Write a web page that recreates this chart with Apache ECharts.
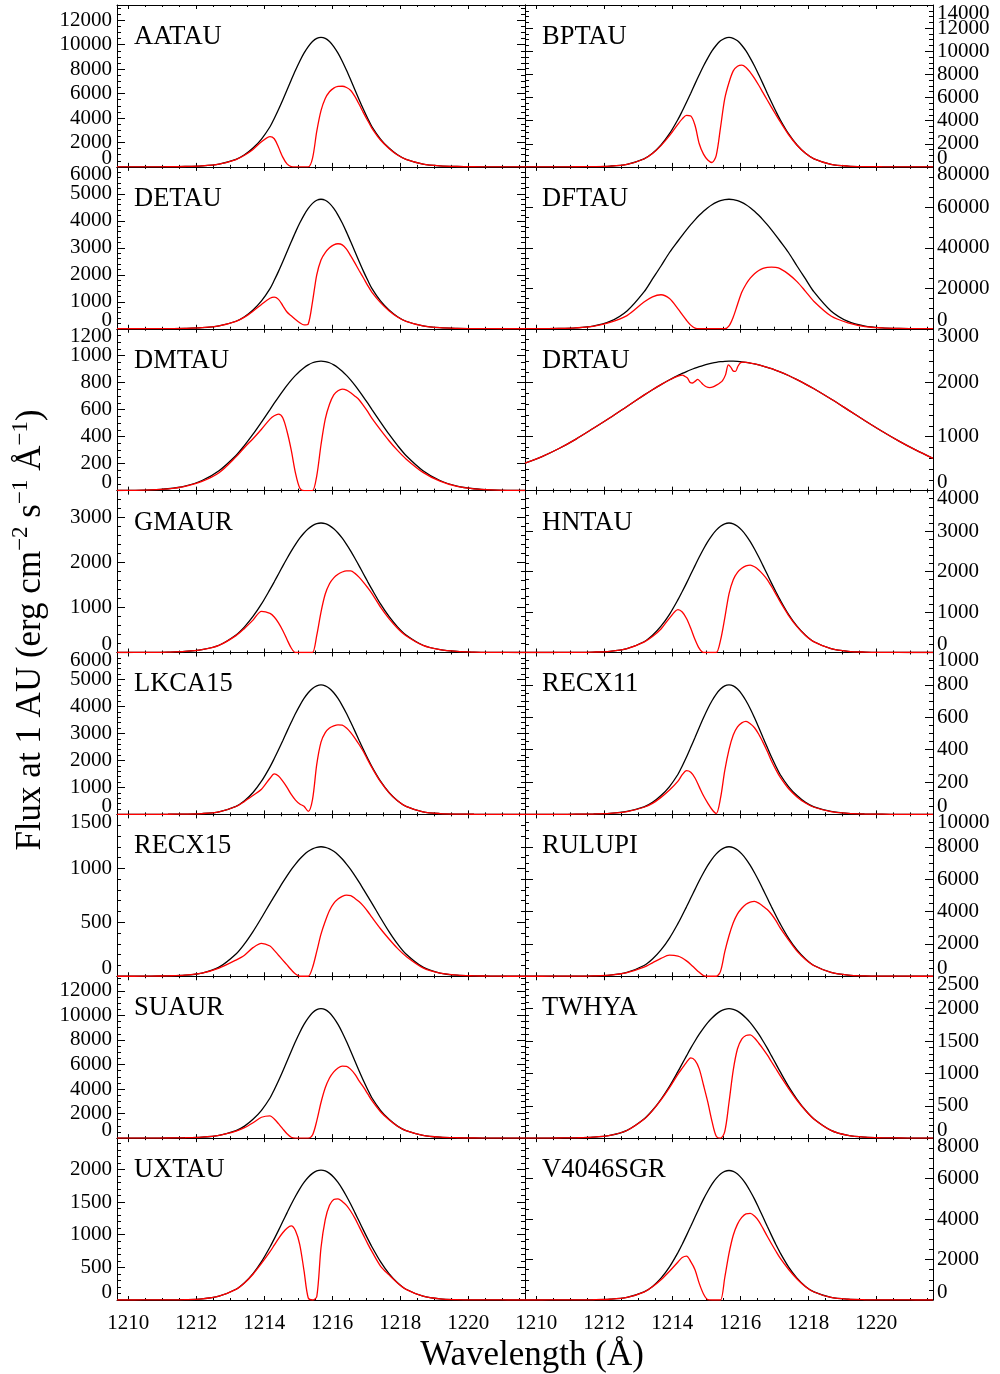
<!DOCTYPE html>
<html><head><meta charset="utf-8">
<script src="https://cdn.jsdelivr.net/npm/echarts@6/dist/echarts.min.js"></script>
<style>html,body{margin:0;padding:0;background:#fff}#c{width:1000px;height:1374px}</style>
</head><body><div id="c"></div><script>
// Wavelength grid (Angstrom)
const wavelength = [1209.67,1210.17,1210.67,1211.17,1211.67,1212.17,1212.67,1213.17,1213.42,1213.67,1213.92,1214.17,1214.295,1214.42,1214.545,1214.67,1214.795,1214.92,1215.045,1215.17,1215.295,1215.42,1215.545,1215.67,1215.795,1215.92,1216.045,1216.17,1216.295,1216.42,1216.545,1216.67,1216.795,1216.92,1217.045,1217.17,1217.42,1217.67,1217.92,1218.17,1218.67,1219.17,1219.67,1220.17,1220.67,1221.17,1221.67];

const stars = ['AATAU','BPTAU','DETAU','DFTAU','DMTAU','DRTAU','GMAUR','HNTAU','LKCA15','RECX11','RECX15','RULUPI','SUAUR','TWHYA','UXTAU','V4046SGR'];
const yMax  = [13250,14000,6000,80000,1200,3000,3600,4000,6000,1000,1500,10000,13190,2500,2480,8000];
const yStep = [2000,2000,1000,20000,200,1000,1000,1000,1000,200,500,2000,2000,500,500,2000];
const xTicks = [1210,1212,1214,1216,1218,1220];

// intrinsic (black) and observed (red) profiles
const AATAU_model = [0,1,4,11,32,85,233,615,986,1537,2279,3286,3964,4696,5480,6296,7113,7908,8650,9307,9847,10261,10515,10600,10515,10261,9847,9307,8650,7908,7113,6296,5480,4696,3964,3286,2279,1537,986,615,233,85,32,11,4,1,0];
const AATAU_obs = [0,1,4,11,32,85,230,600,950,1430,2050,2480,2300,1600,800,250,30,0,0,0,0,700,2900,4600,5600,6150,6450,6580,6600,6500,6250,5750,5100,4420,3780,3160,2200,1510,975,612,233,85,32,11,4,1,0];
const BPTAU_model = [0,1,3,9,22,67,224,694,1176,1893,2867,4110,4827,5589,6373,7179,7963,8725,9408,10024,10517,10898,11122,11200,11122,10898,10517,10024,9408,8725,7963,7179,6373,5589,4827,4110,2867,1893,1176,694,224,67,22,9,3,1,0];
const BPTAU_obs = [0,1,3,9,22,66,220,680,1150,1840,2700,3700,4150,4450,4400,3600,2000,1100,600,380,1000,3400,5900,7300,8300,8700,8800,8600,8180,7660,7060,6420,5780,5150,4530,3930,2800,1870,1170,690,224,67,22,9,3,1,0];
const DETAU_model = [0,0,2,5,14,38,106,278,446,696,1032,1488,1795,2126,2482,2851,3221,3581,3917,4214,4459,4646,4762,4800,4762,4646,4459,4214,3917,3581,3221,2851,2482,2126,1795,1488,1032,696,446,278,106,38,14,5,2,0,0];
const DETAU_obs = [0,0,2,5,14,38,104,272,430,650,900,1130,1175,1090,860,620,480,340,220,140,180,1000,2000,2550,2820,3000,3110,3150,3110,2950,2700,2430,2150,1880,1600,1350,970,670,438,275,106,38,14,5,2,0,0];
const DFTAU_model = [20,50,150,450,1300,3600,8800,18200,24600,31000,37680,43370,46150,48840,51420,53830,56060,58070,59820,61290,62460,63310,63830,64000,63830,63310,62460,61290,59820,58070,56060,53830,51420,48840,46150,43370,37680,31000,24600,18200,8800,3600,1300,450,150,50,20];
const DFTAU_obs = [20,50,150,440,1150,3100,6500,13200,15800,16800,14900,9800,7000,4200,1800,300,0,0,0,0,0,0,0,1400,5800,12000,18000,22000,25000,27200,28800,29800,30300,30500,30300,29700,27000,23300,18500,13500,6300,2900,1100,440,145,50,20];
const DMTAU_model = [1,2,5,14,34,75,148,261,335,418,508,601,648,694,738,780,819,854,885,911,932,948,957,960,957,948,932,911,885,854,819,780,738,694,648,601,508,418,335,261,148,75,34,14,5,2,1];
const DMTAU_obs = [1,2,5,13,32,68,132,250,320,385,455,530,555,567,540,440,300,130,20,0,0,0,110,340,530,640,710,740,752,745,725,700,672,630,585,535,450,370,298,235,135,70,31,13,5,2,1];
const DRTAU_model = [510,630,780,955,1150,1350,1560,1770,1870,1965,2055,2135,2172,2207,2240,2270,2298,2323,2345,2363,2378,2389,2397,2400,2399,2394,2387,2377,2364,2348,2330,2309,2286,2260,2231,2201,2134,2057,1975,1887,1697,1497,1296,1101,918,750,597];
const DRTAU_obs_wave = [1209.67,1210.17,1210.67,1211.17,1211.67,1212.17,1212.67,1213.17,1213.42,1213.67,1213.92,1214.17,1214.3,1214.38,1214.45,1214.52,1214.6,1214.68,1214.75,1214.82,1214.92,1215.0,1215.1,1215.2,1215.3,1215.4,1215.48,1215.57,1215.65,1215.72,1215.8,1215.86,1215.93,1216.0,1216.08,1216.17,1216.42,1216.67,1216.92,1217.17,1217.42,1217.67,1217.92,1218.17,1218.67,1219.17,1219.67,1220.17,1220.67,1221.17,1221.67];
const DRTAU_obs = [510,630,780,955,1150,1350,1560,1770,1870,1965,2050,2120,2140,2115,2085,2010,1995,2030,2060,2025,1960,1925,1910,1922,1955,1995,2040,2150,2330,2290,2215,2210,2300,2365,2380,2376,2348,2309,2260,2201,2134,2057,1975,1887,1697,1497,1296,1101,918,750,597];
const GMAUR_model = [0,1,3,9,23,63,161,389,570,801,1080,1403,1572,1747,1921,2091,2255,2405,2542,2658,2753,2822,2866,2880,2866,2822,2753,2658,2542,2405,2255,2091,1921,1747,1572,1403,1080,801,570,389,161,63,23,9,3,1,0];
const GMAUR_obs = [0,1,3,9,23,62,158,375,535,720,915,870,790,660,490,290,100,0,0,0,0,0,380,900,1300,1530,1660,1740,1790,1815,1815,1760,1670,1560,1440,1310,1010,755,540,372,158,62,23,9,3,1,0];
const HNTAU_model = [0,0,1,3,10,29,96,265,426,650,944,1306,1507,1715,1933,2147,2358,2557,2739,2896,3024,3120,3181,3200,3181,3120,3024,2896,2739,2557,2358,2147,1933,1715,1507,1306,944,650,426,265,96,29,10,3,1,0,0];
const HNTAU_obs = [0,0,1,3,10,29,95,258,395,580,850,1060,1000,840,600,320,100,0,0,0,0,300,850,1450,1800,1980,2080,2140,2160,2120,2040,1930,1800,1630,1450,1260,920,640,422,263,96,29,10,3,1,0,0];
const LKCA15_model = [0,0,1,4,10,29,96,298,504,811,1229,1762,2069,2395,2731,3077,3413,3739,4032,4296,4507,4670,4766,4800,4766,4670,4507,4296,4032,3739,3413,3077,2731,2395,2069,1762,1229,811,504,298,96,29,10,4,1,0,0];
const LKCA15_obs = [0,0,1,4,10,29,95,292,480,700,930,1340,1500,1420,1230,1000,740,530,385,300,110,550,1850,2680,3030,3200,3280,3320,3310,3200,3030,2820,2580,2320,2020,1730,1210,805,502,297,96,29,10,4,1,0,0];
const RECX11_model = [0,0,0,1,2,6,18,46,74,116,172,248,299,354,414,475,537,597,653,702,743,774,794,800,794,774,743,702,653,597,537,475,414,354,299,248,172,116,74,46,18,6,2,1,0,0,0];
const RECX11_obs = [0,0,0,1,2,6,17,44,68,105,150,205,245,270,260,225,170,115,70,30,5,100,270,400,490,540,565,574,560,535,495,445,390,330,278,232,160,108,70,44,17,6,2,1,0,0,0];
const RECX15_model = [0,0,1,4,10,30,84,206,300,414,542,676,740,805,869,930,988,1039,1086,1126,1158,1181,1195,1200,1195,1181,1158,1126,1086,1039,988,930,869,805,740,676,542,414,300,206,84,30,10,4,1,0,0];
const RECX15_obs = [0,0,1,4,10,28,75,150,195,265,305,280,240,195,150,105,60,20,0,0,0,80,230,390,510,610,675,715,740,752,748,720,690,650,600,545,440,345,258,185,78,29,10,4,1,0,0];
const RULUPI_model = [0,1,3,8,24,72,240,662,1064,1624,2360,3264,3768,4288,4832,5368,5896,6392,6848,7240,7560,7800,7952,8000,7952,7800,7560,7240,6848,6392,5896,5368,4832,4288,3768,3264,2360,1624,1064,662,240,72,24,8,3,1,0];
const RULUPI_obs = [0,1,3,8,24,70,225,560,830,1100,1300,1250,1130,950,730,480,240,40,0,0,0,300,1500,2500,3300,3850,4200,4450,4580,4620,4520,4330,4120,3830,3450,3000,2250,1550,1030,650,238,72,24,8,3,1,0];
const SUAUR_model = [0,1,4,11,32,84,232,612,981,1530,2268,3271,3946,4674,5454,6267,7079,7870,8609,9263,9801,10212,10466,10550,10466,10212,9801,9263,8609,7870,7079,6267,5454,4674,3946,3271,2268,1530,981,612,232,84,32,11,4,1,0];
const SUAUR_obs = [0,1,4,11,32,82,222,570,850,1250,1700,1820,1560,1180,760,360,70,0,0,0,0,250,1400,2900,4100,4900,5400,5720,5860,5850,5600,5200,4650,4150,3600,3050,2150,1490,970,608,232,84,32,11,4,1,0];
const TWHYA_model = [0,0,2,5,14,42,120,295,430,600,800,1030,1150,1270,1390,1500,1605,1700,1785,1855,1915,1962,1990,2000,1990,1962,1915,1855,1785,1700,1605,1500,1390,1270,1150,1030,800,600,430,295,120,42,14,5,2,0,0];
const TWHYA_obs = [0,0,2,5,14,42,118,290,425,590,780,990,1080,1170,1240,1200,1070,820,560,260,30,0,100,550,1050,1380,1530,1585,1595,1545,1465,1380,1285,1180,1075,970,770,585,425,292,120,42,14,5,2,0,0];
const UXTAU_model = [0,0,1,2,6,18,60,165,265,404,587,812,937,1067,1202,1335,1467,1590,1703,1801,1881,1940,1978,1990,1978,1940,1881,1801,1703,1590,1467,1335,1202,1067,937,812,587,404,265,165,60,18,6,2,1,0,0];
const UXTAU_obs = [0,0,1,2,6,18,60,163,260,395,560,740,840,940,1030,1100,1135,1060,850,450,30,0,50,800,1230,1450,1540,1550,1510,1450,1360,1250,1120,990,860,740,520,385,260,163,60,18,6,2,1,0,0];
const V4046SGR_model = [0,1,2,5,13,38,128,397,672,1082,1638,2349,2758,3194,3642,4102,4550,4986,5376,5728,6010,6227,6355,6400,6355,6227,6010,5728,5376,4986,4550,4102,3642,3194,2758,2349,1638,1082,672,397,128,38,13,5,2,1,0];
const V4046SGR_obs = [0,1,2,5,13,38,126,390,650,1000,1420,1880,2100,2170,1900,1500,820,300,20,0,0,0,1100,2300,3200,3750,4080,4260,4280,4150,3900,3540,3150,2780,2420,2080,1520,1040,660,395,128,38,13,5,2,1,0];

const models = [AATAU_model,BPTAU_model,DETAU_model,DFTAU_model,DMTAU_model,DRTAU_model,GMAUR_model,HNTAU_model,LKCA15_model,RECX11_model,RECX15_model,RULUPI_model,SUAUR_model,TWHYA_model,UXTAU_model,V4046SGR_model];
const observed = [AATAU_obs,BPTAU_obs,DETAU_obs,DFTAU_obs,DMTAU_obs,DRTAU_obs,GMAUR_obs,HNTAU_obs,LKCA15_obs,RECX11_obs,RECX15_obs,RULUPI_obs,SUAUR_obs,TWHYA_obs,UXTAU_obs,V4046SGR_obs];
const observedWave = stars.map(s => s === 'DRTAU' ? DRTAU_obs_wave : wavelength);

const FONT = '"Liberation Serif","Times New Roman",Times,serif';
const chart = echarts.init(document.getElementById('c'), null, {renderer: 'canvas'});
const grids = [], xAxes = [], yAxes = [], series = [], graphics = [];
const rowH = 1295 / 8;
const X0 = 1209.67, X1 = 1221.67;
const black = '#000000';
const EPS = 1e-6;

function xAxisDef(p, pos, showLabel) {
  return {
    gridIndex: p, type: 'value', position: pos, min: X0, max: X1,
    minInterval: 2, maxInterval: 2, splitNumber: 6,
    axisLine: {onZero: false, lineStyle: {color: black, width: 1}},
    axisTick: {inside: true, length: 4, lineStyle: {color: black, width: 1}},
    minorTick: {show: true, splitNumber: 4, length: 2, lineStyle: {color: black, width: 1}},
    splitLine: {show: false}, minorSplitLine: {show: false},
    axisLabel: {
      show: showLabel, margin: 13, color: black, fontFamily: FONT, fontSize: 21,
      formatter: v => { const r = Math.round(v); return (Math.abs(v - r) < EPS && xTicks.indexOf(r) >= 0) ? String(r) : ''; }
    }
  };
}
// mode: 'main' (line, ticks, inner labels), 'mirror' (line+ticks only),
// 'min' (only the 0 label, raised), 'max' (only the top label, lowered)
function yAxisDef(p, pos, mode) {
  const step = yStep[p], max = yMax[p];
  const lead = step / Math.pow(10, Math.floor(Math.log10(step)));
  const minorSplit = Math.round(lead) === 2 ? 4 : 5;
  const isMult = v => Math.abs(v / step - Math.round(v / step)) < EPS;
  const drawLine = (mode === 'main' || mode === 'mirror');
  let formatter, vAlign = 'middle', showMin = false, showMax = false, lh;
  if (mode === 'main') {
    formatter = v => (isMult(v) && v !== 0 && Math.abs(v - max) > EPS) ? String(Math.round(v)) : '';
  } else if (mode === 'min') {
    formatter = v => (v === 0 ? '0' : ''); vAlign = 'bottom'; showMin = true; lh = 16;
  } else if (mode === 'max') {
    formatter = v => (Math.abs(v - max) < EPS && isMult(max)) ? String(Math.round(max)) : ''; vAlign = 'top'; showMax = true; lh = 16;
  } else {
    formatter = () => '';
  }
  const label = {
    show: mode !== 'mirror', showMinLabel: showMin, showMaxLabel: showMax, hideOverlap: false,
    margin: pos === 'left' ? 5 : 4, color: black, fontFamily: FONT, fontSize: 21,
    verticalAlign: vAlign, formatter: formatter
  };
  if (lh) label.lineHeight = lh;
  return {
    gridIndex: p, type: 'value', position: pos, min: 0, max: max, interval: step,
    axisLine: {show: drawLine, onZero: false, lineStyle: {color: black, width: 1}},
    axisTick: {show: drawLine, inside: true, length: 8, lineStyle: {color: black, width: 1}},
    minorTick: {show: drawLine, splitNumber: minorSplit, length: 4, lineStyle: {color: black, width: 1}},
    splitLine: {show: false}, minorSplitLine: {show: false},
    axisLabel: label
  };
}

for (let p = 0; p < 16; p++) {
  const col = p % 2, row = Math.floor(p / 2);
  const left = col === 0 ? 117 : 525;
  const top = 5 + row * rowH;
  const labelSide = col === 0 ? 'left' : 'right';
  const otherSide = col === 0 ? 'right' : 'left';
  grids.push({left: left, top: top, width: 408, height: rowH, containLabel: false, outerBoundsMode: 'none'});
  xAxes.push(xAxisDef(p, 'bottom', row === 7));
  xAxes.push(xAxisDef(p, 'top', false));
  yAxes.push(yAxisDef(p, labelSide, 'main'));
  yAxes.push(yAxisDef(p, otherSide, 'mirror'));
  yAxes.push(yAxisDef(p, labelSide, 'min'));
  yAxes.push(yAxisDef(p, labelSide, 'max'));
  series.push({
    type: 'line', xAxisIndex: 2 * p, yAxisIndex: 4 * p, showSymbol: false, smooth: 0.3,
    data: wavelength.map((w, i) => [w, models[p][i]]),
    lineStyle: {color: black, width: 1.3}, itemStyle: {color: black}, z: 3
  });
  const ow = observedWave[p];
  series.push({
    type: 'line', xAxisIndex: 2 * p, yAxisIndex: 4 * p, showSymbol: false, smooth: 0.3,
    data: ow.map((w, i) => [w, observed[p][i]]),
    lineStyle: {color: '#ff0000', width: 1.3}, itemStyle: {color: '#ff0000'}, z: 4
  });
  graphics.push({
    type: 'text', x: left + 17, y: top + 32, z: 50,
    style: {text: stars[p], fontFamily: FONT, fontSize: 26.5, fill: black, align: 'left', verticalAlign: 'middle'}
  });
}

graphics.push({
  type: 'text', x: 532, y: 1356, z: 50,
  style: {text: 'Wavelength (Å)', fontFamily: FONT, fontSize: 35, fill: black, align: 'center', verticalAlign: 'middle'}
});
graphics.push({
  type: 'text', x: 31, y: 630, rotation: Math.PI / 2, z: 50,
  style: {
    text: '{a|Flux at 1 AU (erg cm}{s|−2}{a| s}{s|−1}{a| Å}{s|−1}{a|)}',
    align: 'center', verticalAlign: 'middle',
    rich: {
      a: {fontFamily: FONT, fontSize: 35, lineHeight: 44, fill: black},
      s: {fontFamily: FONT, fontSize: 23, lineHeight: 20, verticalAlign: 'top', fill: black}
    }
  }
});

chart.setOption({
  animation: false,
  backgroundColor: '#ffffff',
  grid: grids, xAxis: xAxes, yAxis: yAxes, series: series, graphic: graphics
});
</script></body></html>
